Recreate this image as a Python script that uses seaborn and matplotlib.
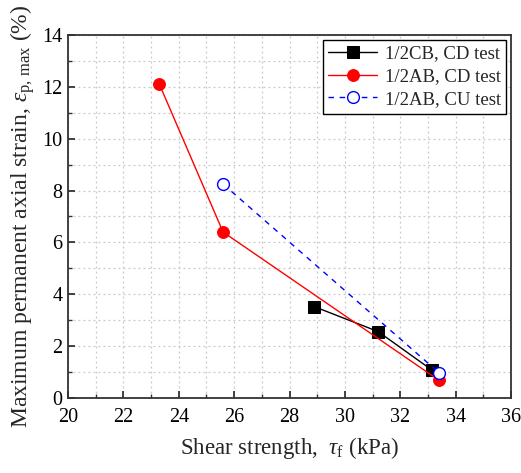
import matplotlib
matplotlib.use("Agg")
import matplotlib.pyplot as plt
import seaborn as sns
from matplotlib.ticker import MultipleLocator

sns.set_style("ticks")
plt.rcParams['font.family'] = ['Liberation Serif', 'DejaVu Serif']
plt.rcParams['mathtext.fontset'] = 'custom'
plt.rcParams['mathtext.rm'] = 'Liberation Serif'
plt.rcParams['mathtext.it'] = 'Liberation Serif:italic'

cb_cd_x = [28.9, 31.2, 33.15]
cb_cd_y = [3.52, 2.56, 1.07]
ab_cd_x = [23.3, 25.6, 33.4]
ab_cd_y = [12.1, 6.4, 0.68]
ab_cu_x = [25.6, 33.4]
ab_cu_y = [8.25, 0.97]
labels = ["1/2CB, CD test", "1/2AB, CD test", "1/2AB, CU test"]

fig, ax = plt.subplots(figsize=(5.21, 4.73), dpi=100)
fig.subplots_adjust(left=0.1305, right=0.981, top=0.926, bottom=0.1586)

ax.grid(True, which='both', color='#c8c8c8', linestyle=(0, (1.5, 2.5)), linewidth=0.9)
ax.set_axisbelow(True)

sns.lineplot(x=cb_cd_x, y=cb_cd_y, ax=ax, color='black', marker='s', markersize=8,
             markeredgecolor='black', linewidth=1.0, label=labels[0], sort=False)
sns.lineplot(x=ab_cd_x, y=ab_cd_y, ax=ax, color='red', marker='o', markersize=8.5,
             markeredgecolor='red', linewidth=1.0, label=labels[1], sort=False)
sns.lineplot(x=ab_cu_x, y=ab_cu_y, ax=ax, color='blue', marker='o', markersize=8.5,
             markerfacecolor='white', markeredgecolor='blue', markeredgewidth=1.0,
             linewidth=1.0, linestyle=(0, (4, 4)), label=labels[2], sort=False)

ax.set_xlim(20, 36)
ax.set_ylim(0, 14)
ax.xaxis.set_major_locator(MultipleLocator(2))
ax.xaxis.set_minor_locator(MultipleLocator(1))
ax.yaxis.set_major_locator(MultipleLocator(2))
ax.yaxis.set_minor_locator(MultipleLocator(1))
ax.tick_params(which='both', direction='in', top=False, right=False, labelsize=14.5,
               colors='#333333', labelcolor='black')
ax.tick_params(axis='x', which='major', pad=7)
ax.tick_params(axis='y', which='major', pad=4)
ax.tick_params(which='major', length=5, width=1.3)
ax.tick_params(which='minor', length=3, width=1.0)
for s in ax.spines.values():
    s.set_linewidth(1.3)
    s.set_color('#333333')

ax.set_xlabel(r"Shear strength,  $\mathit{\tau}_{\mathrm{f}}$ (kPa)", fontsize=16.5, labelpad=6)
ax.set_ylabel(r"Maximum permanent axial strain, $\mathit{\varepsilon}_{\mathrm{p,\,max}}$ (%)",
              fontsize=17, labelpad=4)

leg = ax.legend(loc='upper right', fontsize=13.5, frameon=True, fancybox=False,
                edgecolor='black', framealpha=1, borderpad=0.3, labelspacing=0.3,
                handlelength=2.6, handletextpad=0.4, borderaxespad=0.25)
leg.get_frame().set_linewidth(1.0)

fig.savefig("out.png", dpi=100)
